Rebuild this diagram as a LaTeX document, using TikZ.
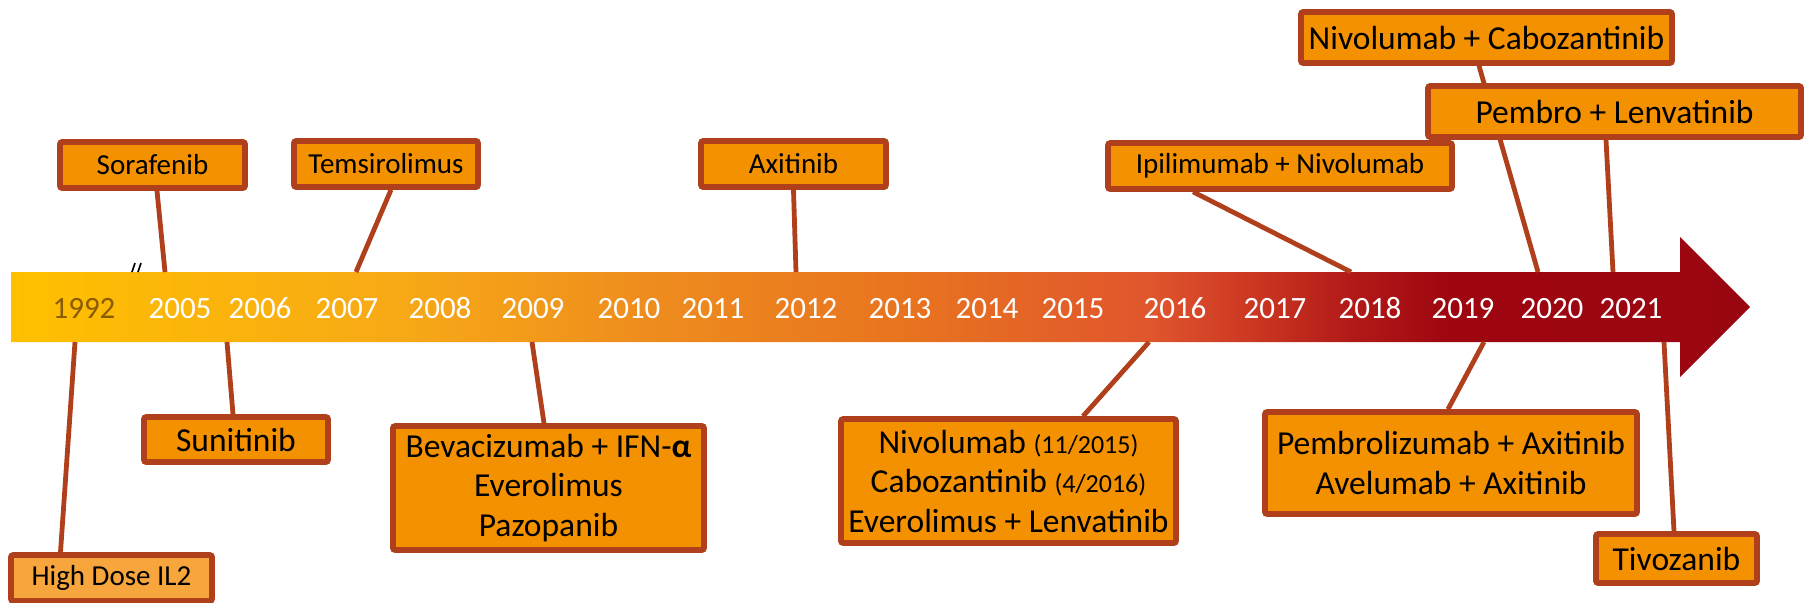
\documentclass[tikz,border=0pt]{standalone}
\usepackage{fontspec}
\setmainfont{Carlito}
\usetikzlibrary{calc}
\pgfdeclarelayer{background}
\pgfsetlayers{background,main}

% colours
\definecolor{boxfill}{HTML}{F49100}
\definecolor{lightfill}{HTML}{F6A63C}
\definecolor{boxline}{HTML}{B0401C}
\definecolor{oldyear}{HTML}{8A5C00}
\definecolor{bar0}{HTML}{FFC000}
\definecolor{bar1}{HTML}{F7A916}
\definecolor{bar2}{HTML}{EE8C1E}
\definecolor{bar3}{HTML}{E8741F}
\definecolor{bar4}{HTML}{E0562D}
\definecolor{bar5}{HTML}{CC3822}
\definecolor{bar6}{HTML}{B21A18}
\definecolor{bar7}{HTML}{9E0610}
\definecolor{bar8}{HTML}{9A0610}

\pgfdeclarehorizontalshading{barshade}{100bp}{color(0bp)=(bar0); color(25bp)=(bar0);
  color(36.2bp)=(bar1); color(43.4bp)=(bar2); color(50.6bp)=(bar3); color(57.7bp)=(bar4);
  color(60.6bp)=(bar5); color(63.5bp)=(bar6); color(66.4bp)=(bar7); color(75bp)=(bar8);
  color(100bp)=(bar8)}

\tikzset{
  drug/.style={draw=boxline, fill=boxfill, line width=2.8pt, rounded corners=1pt,
    inner sep=0pt, align=center, text=black},
  smalltext/.style={font=\fontsize{14.5}{18}\selectfont},
  bigtext/.style={font=\fontsize{16.75}{19.75}\selectfont},
  link/.style={draw=boxline, line width=2.4pt},
  year/.style={anchor=base, text=white, font=\fontsize{15.5}{18}\selectfont},
}

\begin{document}
\begin{tikzpicture}[x=0.5pt, y=-0.5pt]
	\useasboundingbox (0,0) rectangle (1805,602);
	
	% --- timeline arrow ---
	\begin{pgfonlayer}{background}
		\shade[shading=barshade] (11,272) -- (1680,272) -- (1680,237) -- (1750,307)
			-- (1680,377) -- (1680,342) -- (11,342) -- cycle;
	\end{pgfonlayer}
	
	% years
	\node[year, text=oldyear] (y1992) at (84,318) {1992};
	\foreach \yr/\xx in {2005/180, 2006/260, 2007/347, 2008/440, 2009/533, 2010/629,
		2011/713, 2012/806, 2013/900, 2014/987, 2015/1073, 2016/1175, 2017/1275,
		2018/1370, 2019/1463, 2020/1552, 2021/1631}
		\node[year] (y\yr) at (\xx,318) {\yr};
	
	% break mark
	\draw[black, line width=0.8pt] (132,272) -- (135,263) (138,272) -- (141,263);
	
	% --- points on the bar ---
	\coordinate (t1992) at (75,342);
	\coordinate (t2005) at (165,272);
	\coordinate (t2006) at (227,342);
	\coordinate (t2007) at (356,272);
	\coordinate (t2009) at (532,342);
	\coordinate (t2012) at (796,272);
	\coordinate (t2016) at (1149,342);
	\coordinate (t2018) at (1351,272);
	\coordinate (t2019) at (1484,342);
	\coordinate (t2020) at (1538,272);
	\coordinate (t2021a) at (1613,272);
	\coordinate (t2021b) at (1664,342);
	
	% --- boxes above ---
	\node[drug, smalltext, minimum width=92.5pt, minimum height=23pt] (sora) at (152.5,165) {Sorafenib};
	\node[drug, smalltext, minimum width=92pt, minimum height=23pt] (tems) at (386,164) {Temsirolimus};
	\node[drug, smalltext, minimum width=92.5pt, minimum height=23pt] (axit) at (793.5,164) {Axitinib};
	\node[drug, smalltext, minimum width=172pt, minimum height=23pt] (ipil) at (1280,166) {Ipilimumab + Nivolumab};
	\node[drug, bigtext, minimum width=185.5pt, minimum height=25.5pt] (nicab) at (1486.5,37.5) {Nivolumab + Cabozantinib};
	
	% --- boxes below ---
	\node[drug, smalltext, fill=lightfill, minimum width=100.5pt, minimum height=23pt] (hdil) at (111.5,578) {High Dose IL2};
	\node[drug, bigtext, minimum width=92pt, minimum height=22.5pt] (suni) at (236,439.5) {Sunitinib};
	\node[drug, bigtext, minimum width=155.5pt, minimum height=62pt] (beva) at (548.5,488)
		{Bevacizumab + IFN-{\bfseries α}\\Everolimus\\Pazopanib};
	\node[drug, bigtext, minimum width=167.5pt, minimum height=62pt] (nivo) at (1008.5,481)
		{Nivolumab {\fontsize{13}{14}\selectfont(11/2015)}\\Cabozantinib {\fontsize{13}{14}\selectfont(4/2016)}\\Everolimus + Lenvatinib};
	\node[drug, bigtext, minimum width=186pt, minimum height=51pt] (pemax) at (1451,463)
		{Pembrolizumab + Axitinib\\Avelumab + Axitinib};
	\node[drug, bigtext, minimum width=80.5pt, minimum height=24.5pt] (tivo) at (1676.5,558.5) {Tivozanib};
	
	% --- links (behind the boxes) ---
	\begin{pgfonlayer}{background}
		\draw[link] ($(sora.south)+(4.5,0)$) -- (t2005);
		\draw[link] ($(tems.south)+(5,0)$) -- (t2007);
		\draw[link] (axit.south) -- (t2012);
		\draw[link] ($(ipil.south)+(-87,0)$) -- (t2018);
		\draw[link] ($(nicab.south)+(-7.5,0)$) -- (t2020);
		\draw[link] ($(hdil.north)+(-51,0)$) -- (t1992);
		\draw[link] ($(suni.north)+(-3,0)$) -- (t2006);
		\draw[link] ($(beva.north)+(-4.5,0)$) -- (t2009);
		\draw[link] ($(nivo.north)+(74.5,0)$) -- (t2016);
		\draw[link] ($(pemax.north)+(-3,0)$) -- (t2019);
		\draw[link] ($(tivo.north)+(-2.5,0)$) -- (t2021b);
	\end{pgfonlayer}
	
	% Pembro + Lenvatinib sits over the 2020 link
	\node[drug, bigtext, minimum width=186.5pt, minimum height=25.5pt] (pemlen) at (1614.5,111.5) {Pembro + Lenvatinib};
	\begin{pgfonlayer}{background}
		\draw[link] ($(pemlen.south)+(-8.5,0)$) -- (t2021a);
	\end{pgfonlayer}
	
\end{tikzpicture}
\end{document}
